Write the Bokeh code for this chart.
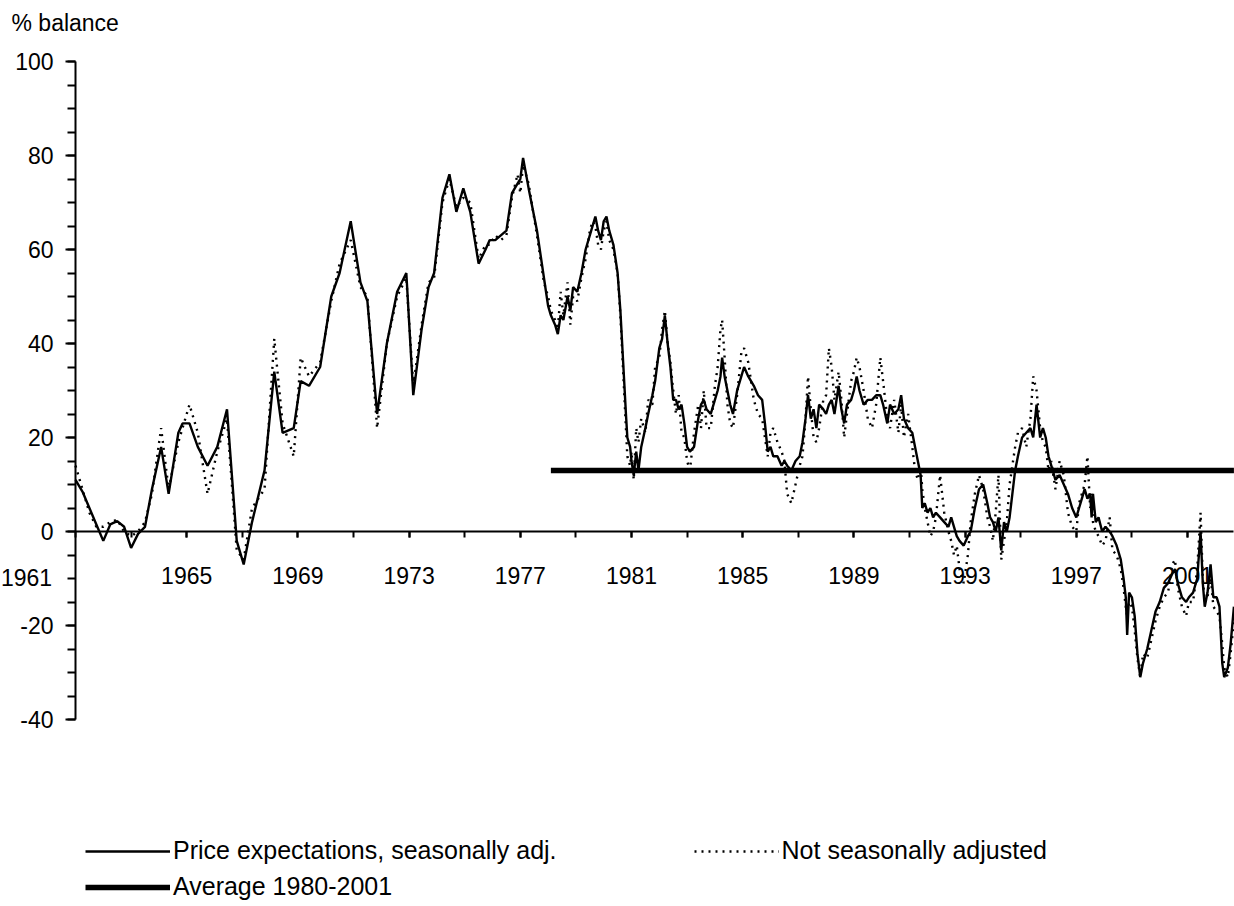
from bokeh.plotting import figure
from bokeh.models import Range1d, FixedTicker, Legend, LegendItem, Label, CustomJSTickFormatter
from bokeh.embed import file_html
from bokeh.resources import INLINE

# ---------------- data ----------------
sa_years = [1961.0, 1961.25, 1961.5, 1961.75, 1962.0, 1962.25, 1962.5, 1962.75, 1963.0, 1963.25,
            1963.5, 1963.75, 1964.08, 1964.35, 1964.7, 1964.85, 1965.1, 1965.4, 1965.75, 1966.1,
            1966.45, 1966.8, 1967.05, 1967.35, 1967.8, 1968.15, 1968.45, 1968.85, 1969.1, 1969.4,
            1969.8, 1970.2, 1970.5, 1970.9, 1971.25, 1971.5, 1971.85, 1972.2, 1972.57, 1972.9,
            1973.15, 1973.45, 1973.7, 1973.9, 1974.2, 1974.45, 1974.7, 1974.95, 1975.2, 1975.5,
            1975.75, 1975.9, 1976.1, 1976.3, 1976.5, 1976.7, 1976.9, 1977.0, 1977.1, 1977.3,
            1977.6, 1977.85, 1978.0, 1978.1, 1978.25, 1978.35, 1978.45, 1978.55, 1978.7, 1978.8,
            1978.9, 1979.05, 1979.2, 1979.35, 1979.5, 1979.6, 1979.7, 1979.8, 1979.9, 1980.0,
            1980.1, 1980.2, 1980.35, 1980.5, 1980.6, 1980.7, 1980.8, 1980.85, 1980.95, 1981.0,
            1981.08, 1981.17, 1981.25, 1981.35, 1981.5, 1981.6, 1981.75, 1981.85, 1982.0, 1982.1,
            1982.2, 1982.3, 1982.4, 1982.5, 1982.6, 1982.7, 1982.8, 1982.9, 1983.0, 1983.1,
            1983.25, 1983.4, 1983.5, 1983.6, 1983.7, 1983.85, 1984.0, 1984.1, 1984.2, 1984.26,
            1984.35, 1984.45, 1984.55, 1984.65, 1984.8, 1984.95, 1985.05, 1985.2, 1985.4, 1985.55,
            1985.7, 1985.8, 1985.9, 1986.0, 1986.1, 1986.25, 1986.4, 1986.5, 1986.6, 1986.75,
            1986.9, 1987.05, 1987.15, 1987.26, 1987.35, 1987.45, 1987.55, 1987.65, 1987.75, 1987.9,
            1988.0, 1988.1, 1988.2, 1988.3, 1988.45, 1988.55, 1988.65, 1988.75, 1988.9, 1989.0,
            1989.1, 1989.2, 1989.35, 1989.5, 1989.65, 1989.8, 1989.95, 1990.05, 1990.2, 1990.3,
            1990.45, 1990.6, 1990.7, 1990.8, 1990.95, 1991.1, 1991.2, 1991.3, 1991.4, 1991.46,
            1991.55, 1991.65, 1991.75, 1991.85, 1991.95, 1992.1, 1992.25, 1992.4, 1992.5, 1992.6,
            1992.7, 1992.8, 1992.95, 1993.1, 1993.2, 1993.35, 1993.5, 1993.65, 1993.8, 1993.9,
            1994.0, 1994.1, 1994.2, 1994.3, 1994.4, 1994.5, 1994.6, 1994.7, 1994.8, 1994.9,
            1995.05, 1995.2, 1995.35, 1995.45, 1995.57, 1995.7, 1995.8, 1995.9, 1996.0, 1996.1,
            1996.25, 1996.4, 1996.55, 1996.7, 1996.85, 1997.0, 1997.1, 1997.2, 1997.3, 1997.4,
            1997.5, 1997.55, 1997.6, 1997.7, 1997.8, 1997.93, 1998.05, 1998.2, 1998.3, 1998.45,
            1998.6, 1998.7, 1998.78, 1998.83, 1998.9, 1999.0, 1999.1, 1999.2, 1999.3, 1999.4,
            1999.55, 1999.7, 1999.85, 2000.0, 2000.15, 2000.3, 2000.45, 2000.55, 2000.65, 2000.8,
            2000.95, 2001.05, 2001.2, 2001.35, 2001.47, 2001.55, 2001.62, 2001.72, 2001.83, 2001.93,
            2002.05, 2002.15, 2002.25, 2002.32, 2002.45, 2002.55, 2002.67]

sa_values = [11, 8.5, 5, 1.5, -2, 1.5, 2.2, 1, -3.5, -0.5,
             1, 9, 18, 8, 21, 23, 23, 18, 14, 18,
             26, -2, -7, 2, 13, 34, 21, 22, 32, 31,
             35, 50, 55, 66, 53, 49, 25, 40, 51, 55,
             29, 43, 52, 55, 71, 76, 68, 73, 68, 57,
             60, 62, 62, 63, 64, 72, 74, 75, 79.5, 73,
             64, 54, 48, 46, 44, 42, 46, 45, 50, 47,
             52, 51, 55, 60, 63, 65, 67, 64, 62, 66,
             67, 64, 61, 55, 47, 36, 25, 20, 18, 15,
             12, 17, 13, 18, 22, 25, 29, 32, 39, 41,
             46, 40, 35, 28, 28, 26, 27, 23, 18, 17,
             18, 24, 27, 28, 26, 25, 28, 30, 33, 37,
             33, 30, 27, 25, 30, 33, 35, 33, 31, 29,
             28, 23, 17, 18, 16, 16, 14, 15, 14, 13,
             15, 16, 19, 24, 29, 24, 26, 22, 27, 26,
             25, 27, 28, 25, 31, 26, 23, 27, 28, 30,
             33, 30, 27, 28, 28, 29, 29, 27, 23, 27,
             25, 26, 29, 24, 22, 21, 18, 15, 12, 5,
             6, 4, 5, 3, 4, 3, 2, 1, 3, 1,
             -1, -2, -3, -1, 0, 5, 9, 10, 6, 3,
             2, 0, 3, -4, 2, 0, 3, 8, 13, 16,
             20, 21, 22, 20, 27, 20, 22, 20, 16, 14,
             11, 12, 10, 8, 5, 3, 5, 7, 9, 7,
             8, 3, 8, 2, 3, 0, 1, 0, -1, -3,
             -6, -10, -14, -22, -13, -14, -18, -26, -31, -28,
             -25, -21, -17, -15, -12, -11, -9, -8, -11, -14,
             -15, -14, -13, -10, 0, -11, -16, -13, -7, -14,
             -14, -16, -28, -31, -29, -24, -16]

nsa_years = sa_years

nsa_values = [14, 9, 4, 1, 1, 2, 2.5, 0, -1, 0,
              2, 8, 22, 9, 19, 22, 27, 21, 8, 17,
              24, -4, -6, 5, 9, 41, 23, 16, 37, 33,
              36, 49, 57, 62, 52, 50, 22, 40, 50, 54,
              31, 44, 53, 54, 70, 75, 69, 71, 70, 58,
              61, 61, 63, 62, 63, 71, 76, 72, 78, 74,
              63, 53, 50, 47, 45, 43, 51, 46, 53, 44,
              50, 49, 54, 58, 64, 66, 65, 61, 60, 64,
              66, 62, 60, 55, 46, 34, 22, 16, 14, 17,
              11, 22, 19, 24, 21, 28, 27, 35, 37, 43,
              47, 40, 36, 30, 25, 29, 21, 20, 15, 13,
              21, 27, 22, 30, 22, 22, 31, 35, 43, 45,
              37, 27, 23, 22, 29, 38, 39, 36, 28, 25,
              24, 20, 16, 21, 22, 19, 17, 15, 8, 6,
              10, 14, 16, 24, 33, 26, 20, 19, 22, 28,
              29, 39, 35, 28, 34, 28, 20, 25, 32, 34,
              37, 35, 30, 24, 22, 27, 37, 32, 24, 22,
              28, 21, 27, 20, 25, 18, 13, 11, 14, 9,
              5, 2, -1, 0, 3, 12, 4, 0, -2, -5,
              -3, -8, -11, -5, 2, 8, 12, 9, 3, 1,
              -2, 4, 12, -6, -2, 2, 10, 14, 18, 21,
              22, 18, 24, 33, 30, 22, 19, 18, 13, 15,
              9, 15, 12, 4, 1, 0, 6, 8, 10, 16,
              5, 8, 2, 0, -1, -3, -2, 3, -4, -5,
              -8, -12, -16, -18, -15, -16, -21, -27, -31, -26,
              -27, -23, -19, -16, -14, -13, -7, -6, -12, -16,
              -18, -15, -15, -8, 4, -10, -15, -14, -9, -16,
              -17, -18, -24, -29, -31, -26, -19]

avg_years = [1978.1, 2002.67]
avg_values = [13, 13]

x_first_year = 1961
x_last_year = 2002.67
x_major_ticks = [1965, 1969, 1973, 1977, 1981, 1985, 1989, 1993, 1997, 2001]
x_minor_ticks = list(range(1961, 2003, 2))
y_min, y_max = -40, 100
y_major_ticks = [-40, -20, 0, 20, 40, 60, 80, 100]
y_minor_ticks = list(range(-40, 101, 5))

legend_labels = ["Price expectations, seasonally adj.", "Not seasonally adjusted", "Average 1980-2001"]

# ---------------- layout (screen geometry) ----------------
W, H = 1234, 906
AXIS_PX = 75          # screen x of the y axis
TOP_PX = 61           # screen y of the value 100
PX_PER_YEAR = 27.8
PX_PER_UNIT = 4.7

x_start = x_first_year - AXIS_PX / PX_PER_YEAR
x_end = x_first_year + (W - AXIS_PX) / PX_PER_YEAR
y_end = y_max + TOP_PX / PX_PER_UNIT
y_start = y_max - (H - TOP_PX) / PX_PER_UNIT

FONT = "Liberation Sans"
FS = "23px"
LFS = "25px"

p = figure(width=W, height=H, output_backend="svg", toolbar_location=None,
           x_range=Range1d(x_start, x_end), y_range=Range1d(y_start, y_end),
           min_border=0)
p.outline_line_color = None
p.xgrid.visible = False
p.ygrid.visible = False
p.background_fill_color = "white"
p.border_fill_color = "white"

r_sa = p.line(sa_years, sa_values, line_color="black", line_width=2.4)
r_nsa = p.line(nsa_years, nsa_values, line_color="black", line_width=2.4, line_dash="2 5")
r_avg = p.line(avg_years, avg_values, line_color="black", line_width=5.5)

fmt = CustomJSTickFormatter(code="return String(Math.round(tick));")

# y axis fixed at 1961
ya = p.yaxis[0]
ya.fixed_location = x_first_year
ya.bounds = (y_min, y_max)
ya.ticker = FixedTicker(ticks=y_major_ticks, minor_ticks=y_minor_ticks)
ya.formatter = fmt
ya.axis_line_width = 2
ya.major_tick_line_width = 2
ya.minor_tick_line_width = 2
ya.major_tick_out = 10
ya.major_tick_in = 0
ya.minor_tick_out = 8
ya.minor_tick_in = 0
ya.major_label_text_font = FONT
ya.major_label_text_font_size = FS
ya.major_label_text_color = "black"
ya.major_label_standoff = 12

# x axis fixed at 0
xa = p.xaxis[0]
xa.fixed_location = 0
xa.bounds = (x_first_year, x_last_year)
xa.ticker = FixedTicker(ticks=x_major_ticks, minor_ticks=x_minor_ticks)
xa.formatter = fmt
xa.axis_line_width = 2
xa.major_tick_line_width = 2
xa.minor_tick_line_width = 2
xa.major_tick_out = 6
xa.major_tick_in = 0
xa.minor_tick_out = 6
xa.minor_tick_in = 0
xa.major_label_text_font = FONT
xa.major_label_text_font_size = FS
xa.major_label_text_color = "black"
xa.major_label_standoff = 29

# first year label sits left of the y axis
p.add_layout(Label(x=x_first_year, y=0, x_offset=-49, y_offset=-46, text=str(x_first_year),
                   text_font=FONT, text_font_size=FS, text_baseline="middle", text_align="center",
                   text_color="black"))

# "% balance" label above the y axis
p.add_layout(Label(x=11, y=H - 22, x_units="screen", y_units="screen", text="% balance",
                   text_font=FONT, text_font_size=FS, text_baseline="middle", text_align="left",
                   text_color="black"))

leg_a = Legend(items=[LegendItem(label=legend_labels[0], renderers=[r_sa]),
                      LegendItem(label=legend_labels[1], renderers=[r_nsa])],
               orientation="horizontal", location=(85, 41), spacing=137,
               glyph_width=85, glyph_height=20, label_standoff=3, padding=0, margin=0,
               label_text_font=FONT, label_text_font_size=LFS, label_text_color="black",
               border_line_alpha=0, background_fill_alpha=0)
leg_b = Legend(items=[LegendItem(label=legend_labels[2], renderers=[r_avg])],
               orientation="horizontal", location=(85, 5),
               glyph_width=85, glyph_height=20, label_standoff=3, padding=0, margin=0,
               label_text_font=FONT, label_text_font_size=LFS, label_text_color="black",
               border_line_alpha=0, background_fill_alpha=0)
p.add_layout(leg_a, "center")
p.add_layout(leg_b, "center")

open("out.html", "w").write(file_html(p, INLINE))
